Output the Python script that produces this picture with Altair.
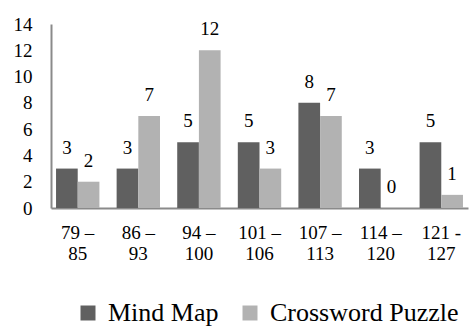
import altair as alt
import pandas as pd

categories = ["79 –\n85", "86 –\n93", "94 –\n100", "101 –\n106", "107 –\n113", "114 –\n120", "121 -\n127"]
series = ["Mind Map", "Crossword Puzzle"]
mind_map = [3, 3, 5, 5, 8, 3, 5]
crossword = [2, 7, 12, 3, 7, 0, 1]
colors = ["#606060", "#b2b2b2"]

rows = []
for c, m, w in zip(categories, mind_map, crossword):
    rows.append({"cat": c, "series": series[0], "value": m})
    rows.append({"cat": c, "series": series[1], "value": w})
df = pd.DataFrame(rows)

FONT = "Liberation Serif"
AXIS_COLOR = "#8a8a8a"

x_enc = alt.X(
    "cat:N", sort=categories,
    scale=alt.Scale(paddingInner=0.284, paddingOuter=0.083),
    axis=alt.Axis(title=None, labelExpr="split(datum.label, '\\n')", labelAngle=0,
                  ticks=False, labelPadding=15, labelFont=FONT, labelFontSize=19,
                  labelColor="#000000", labelLineHeight=21, domainColor=AXIS_COLOR,
                  domainWidth=2),
)
xo_enc = alt.XOffset("series:N", sort=series)
y_enc = alt.Y(
    "value:Q", scale=alt.Scale(domain=[0, 14]),
    axis=alt.Axis(title=None, values=list(range(0, 15, 2)), grid=False, ticks=False,
                  labelPadding=19, labelFont=FONT, labelFontSize=19, labelColor="#000000",
                  domainColor=AXIS_COLOR, domainWidth=2),
)

base = alt.Chart(df).encode(x=x_enc, xOffset=xo_enc, y=y_enc)

bars = base.mark_bar().encode(
    color=alt.Color(
        "series:N", sort=series,
        scale=alt.Scale(domain=series, range=colors),
        legend=alt.Legend(title=None, orient="none", legendX=24, legendY=276,
                          direction="horizontal", symbolType="square", symbolSize=225,
                          symbolStrokeWidth=0, labelFont=FONT, labelFontSize=26,
                          labelLimit=400, labelColor="#000000", columnPadding=18,
                          labelOffset=7),
    )
)

labels = base.mark_text(dy=-15, baseline="alphabetic", font=FONT, fontSize=19,
                        color="#000000").encode(text="value:Q")

chart = (bars + labels).properties(
    width=417, height=184, autosize="none",
    padding={"left": 51, "top": 24, "right": 2, "bottom": 121},
).configure(font=FONT).configure_view(stroke=None)

chart.save("out.html", embed_options={"renderer": "svg", "actions": False})
